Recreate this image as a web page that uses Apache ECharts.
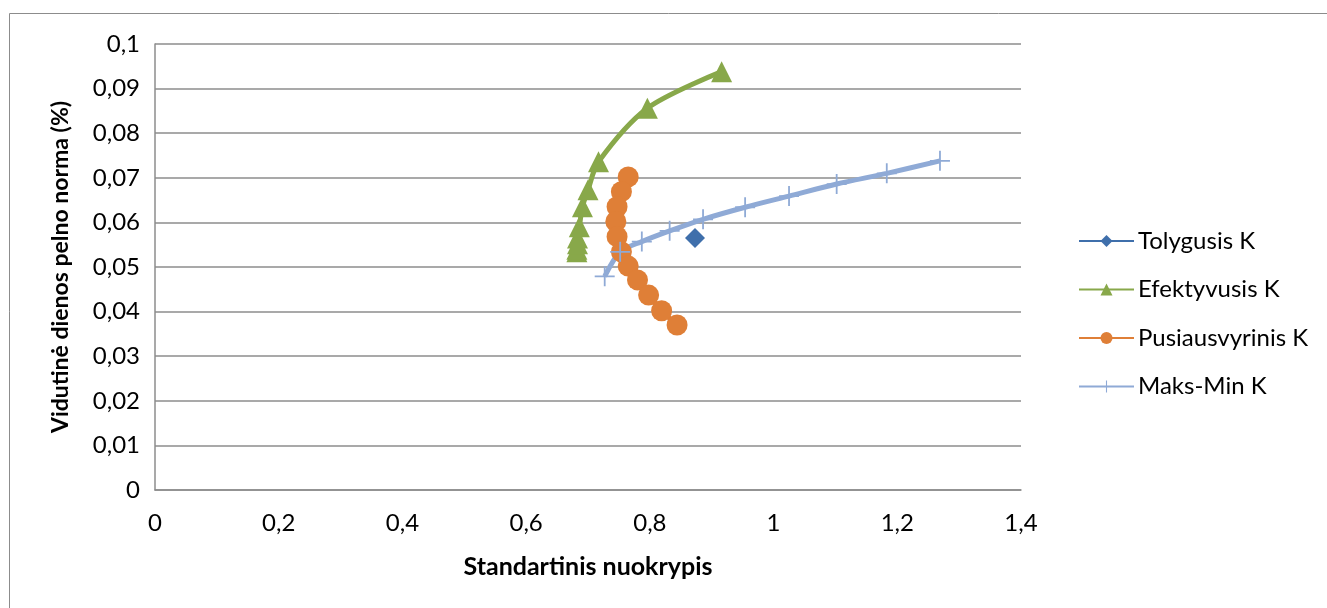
<!DOCTYPE html>
<html>
<head>
<meta charset="utf-8">
<script src="https://cdn.jsdelivr.net/npm/echarts@6/dist/echarts.min.js"></script>
<style>
  html, body { margin: 0; padding: 0; background: #fff; }
  #chart { width: 1327px; height: 608px; }
</style>
</head>
<body>
<div id="chart"></div>
<script>
// Portfolio points: [standard deviation, mean daily return]
const tolygusis = [[0.873, 0.0565]];

const efektyvusis = [
  [0.682, 0.0534], [0.682, 0.0540], [0.683, 0.0552], [0.683, 0.0565],
  [0.686, 0.0590], [0.691, 0.0635], [0.700, 0.0673], [0.717, 0.0736],
  [0.796, 0.0856], [0.916, 0.0938]
];

const pusiausvyrinis = [
  [0.765, 0.0702], [0.754, 0.0669], [0.747, 0.0635], [0.745, 0.0602],
  [0.747, 0.0568], [0.754, 0.0534], [0.765, 0.0502], [0.780, 0.0471],
  [0.798, 0.0437], [0.819, 0.0402], [0.844, 0.0370]
];

const maksMin = [
  [0.727, 0.0479], [0.752, 0.0534], [0.787, 0.0557], [0.832, 0.0581],
  [0.886, 0.0607], [0.954, 0.0634], [1.025, 0.0659], [1.102, 0.0686],
  [1.183, 0.0710], [1.269, 0.0738]
];

const seriesNames = ['Tolygusis K', 'Efektyvusis K', 'Pusiausvyrinis K', 'Maks-Min K'];
const xTitle = 'Standartinis nuokrypis';
const yTitle = 'Vidutinė dienos pelno norma (%)';

const FONT = 'Lato, "Open Sans", sans-serif';
const comma = v => String(parseFloat(v.toFixed(4))).replace('.', ',');
const plusSymbol = 'path://M-0.09,-1h0.18v2h-0.18z M-1,-0.09h2v0.18h-2z';

const chart = echarts.init(document.getElementById('chart'), null, { renderer: 'canvas' });

chart.setOption({
  backgroundColor: '#fff',
  animation: false,
  textStyle: { fontFamily: FONT },
  graphic: [{
    type: 'rect',
    silent: true,
    shape: { x: 9.5, y: 13.5, width: 1400, height: 700 },
    style: { fill: 'none', stroke: '#8c8c8c', lineWidth: 1 }
  }],
  grid: { left: 155, top: 44, right: 306, bottom: 118, containLabel: false },
  legend: {
    orient: 'vertical',
    left: 1073,
    top: 224,
    itemWidth: 55,
    itemHeight: 15,
    itemGap: 24.5,
    textStyle: { fontFamily: FONT, fontSize: 24, color: '#000', lineHeight: 24, padding: [0, 0, 0, -1] },
    data: seriesNames
  },
  xAxis: {
    type: 'value',
    min: 0, max: 1.4, interval: 0.2,
    name: xTitle,
    nameLocation: 'middle',
    nameGap: 64,
    nameMoveOverlap: false,
    nameTextStyle: { fontFamily: FONT, fontSize: 25, fontWeight: 'bold', color: '#000' },
    axisLine: { show: true, lineStyle: { color: '#8c8c8c', width: 1.5 } },
    axisTick: { show: false },
    splitLine: { show: false },
    axisLabel: { fontFamily: FONT, fontSize: 24, color: '#000', margin: 21, formatter: comma }
  },
  yAxis: {
    type: 'value',
    min: 0, max: 0.1, interval: 0.01,
    name: yTitle,
    nameLocation: 'middle',
    nameGap: 83,
    nameMoveOverlap: false,
    nameTextStyle: { fontFamily: FONT, fontSize: 23, fontWeight: 'bold', color: '#000' },
    axisLine: { show: true, lineStyle: { color: '#8c8c8c', width: 1.5 } },
    axisTick: { show: false },
    splitLine: { show: true, lineStyle: { color: '#8c8c8c', width: 1.5 } },
    axisLabel: { fontFamily: FONT, fontSize: 24, color: '#000', margin: 15, formatter: comma }
  },
  series: [
    {
      name: seriesNames[0],
      type: 'line',
      data: tolygusis,
      symbol: 'diamond',
      symbolSize: 20,
      itemStyle: { color: '#3f6fab' },
      lineStyle: { color: '#3f6fab', width: 5 }
    },
    {
      name: seriesNames[1],
      type: 'line',
      data: efektyvusis,
      smooth: 0.3,
      symbol: 'triangle',
      symbolSize: 21,
      itemStyle: { color: '#88a84a' },
      lineStyle: { color: '#88a84a', width: 5 }
    },
    {
      name: seriesNames[2],
      type: 'line',
      data: pusiausvyrinis,
      smooth: 0.3,
      symbol: 'circle',
      symbolSize: 21,
      itemStyle: { color: '#df7f37' },
      lineStyle: { color: '#df7f37', width: 5 }
    },
    {
      name: seriesNames[3],
      type: 'line',
      data: maksMin,
      smooth: 0.3,
      symbol: plusSymbol,
      symbolSize: 20,
      itemStyle: { color: '#8faad6' },
      lineStyle: { color: '#8faad6', width: 5 }
    }
  ]
});
</script>
</body>
</html>
